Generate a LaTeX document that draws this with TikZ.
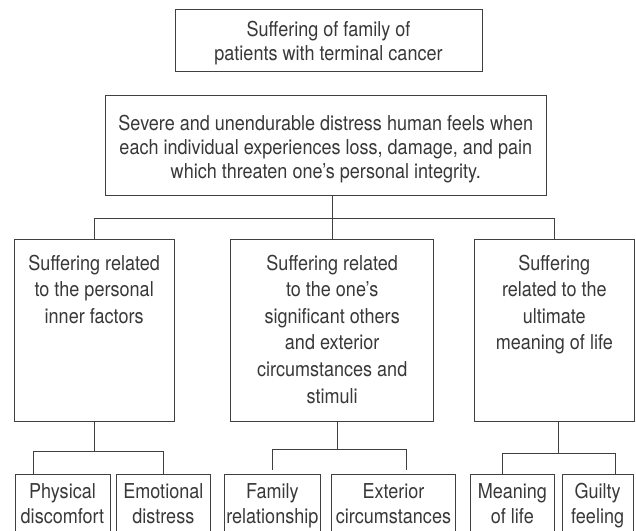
\documentclass[tikz,border=0pt]{standalone}
\usepackage{fontspec}
\setmainfont[FakeStretch=0.88]{TeX Gyre Heros}
\usetikzlibrary{positioning}
\begin{document}
\begin{tikzpicture}[x=1pt,y=-1pt,
    box/.style={draw=black!75,line width=0.8pt,inner sep=0pt},
    txt/.style={text=black!78,align=center,inner sep=0pt,font=\fontsize{20.5}{24}\selectfont},
    midtxt/.style={txt,font=\fontsize{20.5}{26.6}\selectfont},
    lowtxt/.style={txt,font=\fontsize{20.5}{25}\selectfont},
    link/.style={draw=black!75,line width=0.8pt}]
    \useasboundingbox (0,0) rectangle (636,530);
    \node[box,minimum width=307pt,minimum height=62.7pt] (family) at (328.5,40.3) {};
    \node[txt,below=12pt of family.north] (familytxt) {Suffering of family of\\patients with terminal cancer};
    \node[box,minimum width=441.7pt,minimum height=99.3pt] (defn) at (325.8,145.3) {};
    \node[txt,below=19.3pt of defn.north] (defntxt) {Severe and unendurable distress human feels when\\each individual experiences loss, damage, and pain\\which threaten one’s personal integrity.};
    \node[box,minimum width=160.3pt,minimum height=182.4pt] (inner) at (94.2,330.5) {};
    \node[box,minimum width=203pt,minimum height=182.4pt] (others) at (332.2,330.5) {};
    \node[box,minimum width=159.3pt,minimum height=182.4pt] (ultimate) at (554.3,330.5) {};
    \node[midtxt,below=15.7pt of inner.north] (innertxt) {Suffering related\\to the personal\\inner factors};
    \node[midtxt,below=15.7pt of others.north] (otherstxt) {Suffering related\\to the one’s\\significant others\\and exterior\\circumstances and\\stimuli};
    \node[midtxt,below=15.7pt of ultimate.north] (ultimatetxt) {Suffering\\related to the\\ultimate\\meaning of life};
    \node[box,minimum width=95pt,minimum height=66pt] (physical) at (62.5,507) {};
    \node[box,minimum width=94.7pt,minimum height=66pt] (emotional) at (163.35,507) {};
    \node[box,minimum width=96.7pt,minimum height=66pt] (relation) at (272.35,507) {};
    \node[box,minimum width=124.4pt,minimum height=66pt] (exterior) at (393.5,507) {};
    \node[box,minimum width=83.3pt,minimum height=66pt] (meaning) at (512.35,507) {};
    \node[box,minimum width=70.7pt,minimum height=66pt] (guilty) at (597.65,507) {};
    \node[lowtxt,below=9.3pt of physical.north] (physicaltxt) {Physical\\discomfort};
    \node[lowtxt,below=9.3pt of emotional.north] (emotionaltxt) {Emotional\\distress};
    \node[lowtxt,below=9.3pt of relation.north] (relationtxt) {Family\\relationship};
    \node[lowtxt,below=9.3pt of exterior.north] (exteriortxt) {Exterior\\circumstances};
    \node[lowtxt,below=9.3pt of meaning.north] (meaningtxt) {Meaning\\of life};
    \node[lowtxt,below=9.3pt of guilty.north] (guiltytxt) {Guilty\\feeling};
    \draw[link] (others.north) -- (others.north |- defn.south);
    \draw[link] (inner.north) -- ([yshift=21pt]inner.north) -| (ultimate.north);
    \draw[link] (inner.south) |- ([xshift=-29pt,yshift=22pt]physical.north) -- ([xshift=-29pt]physical.north);
    \draw[link] (inner.south) |- ([yshift=22pt]emotional.north) -- (emotional.north);
    \draw[link] ([xshift=5pt]others.south) |- ([yshift=24pt]relation.north) -- ([yshift=4pt]relation.north);
    \draw[link] ([xshift=5pt]others.south) |- ([xshift=13pt,yshift=24pt]exterior.north) -- ([xshift=13pt,yshift=4pt]exterior.north);
    \draw[link] ([xshift=4pt]ultimate.south) |- ([xshift=-10pt,yshift=20pt]meaning.north) -- ([xshift=-10pt]meaning.north);
    \draw[link] ([xshift=4pt]ultimate.south) |- ([xshift=18pt,yshift=20pt]guilty.north) -- ([xshift=18pt]guilty.north);
\end{tikzpicture}
\end{document}
